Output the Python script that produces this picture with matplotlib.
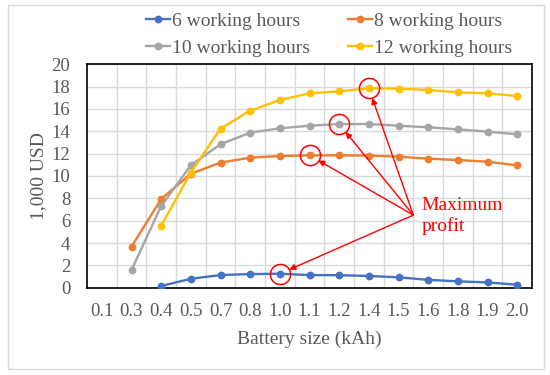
import matplotlib
matplotlib.use("Agg")
import matplotlib.pyplot as plt
import matplotlib.patches as mpatches
import numpy as np

plt.rcParams['font.family'] = ['Liberation Serif', 'DejaVu Serif']

battery_sizes = ["0.1", "0.3", "0.4", "0.5", "0.7", "0.8", "1.0", "1.1",
                 "1.2", "1.4", "1.5", "1.6", "1.8", "1.9", "2.0"]
nan = np.nan
profit_6h = [nan, nan, 0.15, 0.80, 1.13, 1.22, 1.25, 1.13, 1.12, 1.05, 0.93, 0.70, 0.57, 0.47, 0.27]
profit_8h = [nan, 3.67, 7.94, 10.2, 11.2, 11.64, 11.79, 11.85, 11.85, 11.83, 11.73, 11.55, 11.43, 11.28, 10.95]
profit_10h = [nan, 1.58, 7.31, 10.96, 12.84, 13.88, 14.27, 14.5, 14.65, 14.65, 14.5, 14.36, 14.18, 13.97, 13.73]
profit_12h = [nan, nan, 5.55, 10.3, 14.24, 15.85, 16.8, 17.4, 17.58, 17.85, 17.82, 17.7, 17.49, 17.4, 17.16]

series_labels = ["6 working hours", "8 working hours", "10 working hours", "12 working hours"]
series_colors = ["#4472C4", "#ED7D31", "#A5A5A5", "#FFC000"]
series_values = [profit_6h, profit_8h, profit_10h, profit_12h]
max_profit_idx = [6, 7, 8, 9]

annotation_text = "Maximum\nprofit"
y_label = "1,000 USD"
x_label = "Battery size (kAh)"

text_gray = "#595959"

fig = plt.figure(figsize=(5.5, 3.75), dpi=100)
ax = fig.add_axes([87/550, 1-287.7/375, (532-87)/550, (287.7-64.3)/375])

x = np.arange(len(battery_sizes))
handles = []
for vals, col, lab in zip(series_values, series_colors, series_labels):
    h, = ax.plot(x, vals, color=col, lw=1.7, marker='o', ms=4.6, label=lab,
                 zorder=3)
    handles.append(h)

# red circles at max points
for vals, idx in zip(series_values, max_profit_idx):
    ax.plot(x[idx], vals[idx], marker='o', ms=14.5, mfc='none', mec='red',
            mew=1.1, zorder=4, ls='none')

# arrows
origin = (10.5, 6.5)
for vals, idx in zip(series_values, max_profit_idx):
    ax.annotate("", xy=(x[idx], vals[idx]), xytext=origin,
                arrowprops=dict(arrowstyle='-|>', color='red', lw=1.0,
                                shrinkA=0, shrinkB=7.3, mutation_scale=9),
                zorder=5)
ax.text(10.78, 8.1, annotation_text, color='red', fontsize=14, va='top',
        ha='left', linespacing=1.2, zorder=5)

ax.set_xlim(-0.5, len(battery_sizes) - 0.5)
ax.set_ylim(0, 20)
ax.set_yticks(np.arange(0, 21, 2))
ax.set_xticks(x)
ax.set_xticklabels(battery_sizes)
ax.set_xticks(np.arange(0.5, len(battery_sizes) - 1, 1.0), minor=True)
ax.grid(True, which='major', axis='y', color='#D9D9D9', lw=1.0, zorder=0)
ax.grid(True, which='minor', axis='x', color='#D9D9D9', lw=1.0, zorder=0)
ax.set_axisbelow(True)
ax.tick_params(which='both', length=0)
ax.tick_params(axis='x', pad=11, labelsize=13.5, labelcolor=text_gray)
ax.tick_params(axis='y', pad=12, labelsize=13.5, labelcolor=text_gray)
for s in ax.spines.values():
    s.set_color('black')
    s.set_linewidth(1.2)

ax.set_xlabel(x_label, fontsize=14, color=text_gray, labelpad=8)
ax.set_ylabel(y_label, fontsize=14, color=text_gray, labelpad=3)

# legend is filled column-wise; reorder so rows read 6, 8 / 10, 12
order = [0, 2, 1, 3]
fig.legend(handles=[handles[i] for i in order],
           labels=[series_labels[i] for i in order], ncol=2, loc='upper left',
           bbox_to_anchor=(146/550, 1 - 12.5/375), frameon=False, fontsize=14,
           handlelength=1.25, handletextpad=0.1, columnspacing=1.95,
           labelspacing=0.46, borderpad=0, borderaxespad=0, labelcolor=text_gray)

frame = mpatches.Rectangle((7.5/550, 6/375), (544-7.5)/550, (370-6)/375,
                           transform=fig.transFigure, fill=False,
                           edgecolor='#D9D9D9', lw=1.0)
fig.patches.append(frame)

fig.savefig("out.png", dpi=100)
